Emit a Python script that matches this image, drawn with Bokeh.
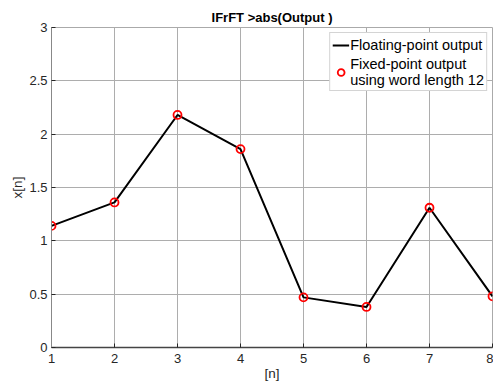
from bokeh.plotting import figure
from bokeh.models import Range1d, FixedTicker, Legend, LegendItem
from bokeh.embed import file_html
from bokeh.resources import INLINE

# Data
n = [1, 2, 3, 4, 5, 6, 7, 8]
float_out = [1.14, 1.36, 2.18, 1.86, 0.47, 0.38, 1.31, 0.48]
fixed_out = [1.14, 1.36, 2.18, 1.86, 0.47, 0.38, 1.31, 0.48]
x_ticks = [1, 2, 3, 4, 5, 6, 7, 8]
y_ticks = [0, 0.5, 1, 1.5, 2, 2.5, 3]
y_tick_labels = ["0", "0.5", "1", "1.5", "2", "2.5", "3"]
title_text = "IFrFT >abs(Output )"
legend_labels = ["Floating-point output", "Fixed-point output\nusing word length 12"]

FONT = "Liberation Sans"

p = figure(width=493, height=383, output_backend="svg", toolbar_location=None,
           x_range=Range1d(1, 8), y_range=Range1d(0, 3),
           min_border_left=51, min_border_right=1, min_border_top=27, min_border_bottom=33,
           title=title_text)

p.title.text_font = FONT
p.title.text_font_size = "13px"
p.title.text_font_style = "bold"
p.title.text_color = "#000000"
p.title.align = "center"
p.title.standoff = 5

line_r = p.line(n, float_out, line_color="black", line_width=2)
mark_r = p.scatter(n, fixed_out, marker="circle", size=8, line_color="red",
                   line_width=1.8, fill_alpha=0)

# Axes
p.xaxis.ticker = FixedTicker(ticks=x_ticks)
p.yaxis.ticker = FixedTicker(ticks=y_ticks)
p.yaxis.major_label_overrides = {t: l for t, l in zip(y_ticks, y_tick_labels)}
for ax in (p.xaxis, p.yaxis):
    ax.major_tick_in = 4
    ax.major_tick_out = 0
    ax.minor_tick_in = 0
    ax.minor_tick_out = 0
    ax.major_tick_line_color = "#262626"
    ax.major_label_text_font = FONT
    ax.major_label_text_font_size = "13px"
    ax.major_label_text_color = "#262626"
    ax.axis_label_text_font = FONT
    ax.axis_label_text_font_size = "13.5px"
    ax.axis_label_text_font_style = "normal"
    ax.axis_label_text_color = "#262626"
p.xaxis.axis_line_color = "#444444"
p.xaxis.axis_line_width = 1.5
p.yaxis.axis_line_color = "#888888"
p.xaxis.major_label_standoff = 6
p.yaxis.major_label_standoff = 4
p.xaxis.axis_label = "[n]"
p.yaxis.axis_label = "x[n]"
p.xaxis.axis_label_standoff = 0
p.yaxis.axis_label_standoff = 1

p.xgrid.grid_line_color = "#adadad"
p.ygrid.grid_line_color = "#adadad"
p.outline_line_color = "#aaaaaa"
p.background_fill_color = "white"
p.border_fill_color = "white"

legend = Legend(items=[LegendItem(label=legend_labels[0], renderers=[line_r]),
                       LegendItem(label=legend_labels[1], renderers=[mark_r])],
                location="top_right")
legend.margin = 5
legend.padding = 2
legend.spacing = 1
legend.glyph_width = 17
legend.label_standoff = 1
legend.label_text_font = FONT
legend.label_text_font_size = "14.5px"
legend.label_text_line_height = 1.5
legend.label_text_color = "#000000"
legend.border_line_color = "#aaaaaa"
legend.background_fill_color = "white"
legend.background_fill_alpha = 1
p.add_layout(legend)

open("out.html", "w").write(file_html(p, INLINE))
